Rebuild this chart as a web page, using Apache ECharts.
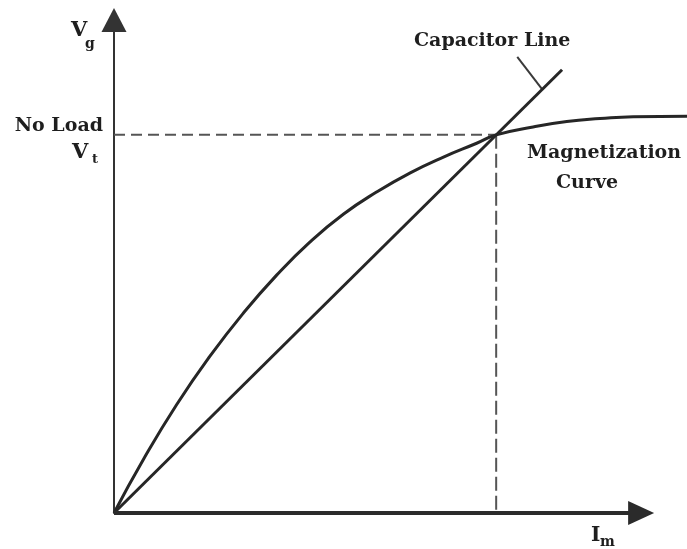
<!DOCTYPE html>
<html>
<head>
<meta charset="utf-8">
<script src="https://cdn.jsdelivr.net/npm/echarts@6/dist/echarts.min.js"></script>
<style>
  html, body { margin: 0; padding: 0; background: #fff; }
  #chart { width: 687px; height: 549px; }
</style>
</head>
<body>
<div id="chart"></div>
<script>
// Magnetization curve of the self-excited generator (Im, Vg), in axis units
const magnetizationCurve = [
  [0, 0], [5.6, 10.9], [11.9, 22.0], [18.2, 31.8], [24.5, 40.5],
  [30.9, 48.3], [37.2, 55.0], [43.5, 60.6], [49.8, 65.1], [56.2, 69.0],
  [62.5, 72.2], [68.8, 75.0], [72.5, 76.7], [79.5, 78.3], [85.9, 79.4],
  [92.2, 80.0], [98.5, 80.4], [108.7, 80.5]
];
// Capacitor line through the origin
const capacitorLine = [[0, 0], [85.0, 89.9]];
// No-load operating point (intersection)
const noLoadPoint = [72.5, 76.7];
// Leader from the "Capacitor Line" caption to the line
const captionLeader = [[76.5, 92.5], [81.2, 86.0]];
// Drawn extent of the Im axis (arrow end) and of the plot area
const imAxisEnd = 100;
const imExtent = 108.7;

const ink = '#262626';
const serif = '"DejaVu Serif", "Liberation Serif", serif';

const chart = echarts.init(document.getElementById('chart'), null, { renderer: 'canvas' });

function label(text, x, y, size, align) {
  return {
    type: 'text', x: x, y: y,
    style: {
      text: text, fill: '#1e1e1e',
      font: 'bold ' + size + 'px ' + serif,
      textAlign: align || 'left', textVerticalAlign: 'middle'
    }
  };
}

chart.setOption({
  animation: false,
  backgroundColor: '#ffffff',
  grid: { left: 114, right: 0, top: 20, bottom: 36 },
  xAxis: {
    type: 'value', min: 0, max: imExtent,
    axisLine: { show: false },
    axisTick: { show: false }, axisLabel: { show: false }, splitLine: { show: false }
  },
  yAxis: {
    type: 'value', min: 0, max: 100,
    axisLine: {
      show: true, onZero: false,
      symbol: ['none', 'triangle'], symbolSize: [25, 24],
      lineStyle: { color: '#333', width: 2 }
    },
    axisTick: { show: false }, axisLabel: { show: false }, splitLine: { show: false }
  },
  series: [
    {
      name: 'Magnetization Curve', type: 'line', data: magnetizationCurve,
      smooth: 0.5, showSymbol: false,
      lineStyle: { color: ink, width: 3 }, z: 3
    },
    {
      name: 'Capacitor Line', type: 'line', data: capacitorLine,
      showSymbol: false,
      lineStyle: { color: ink, width: 3 }, z: 3,
      // Im axis with its arrow head
      markLine: {
        silent: true, animation: false,
        symbol: ['none', 'triangle'], symbolSize: [24, 26],
        label: { show: false },
        lineStyle: { color: '#2b2b2b', width: 4, type: 'solid' },
        emphasis: { disabled: true },
        data: [[{ coord: [0, 0] }, { coord: [imAxisEnd, 0] }]]
      }
    },
    {
      name: 'No Load Vt', type: 'line',
      data: [[0, noLoadPoint[1]], noLoadPoint],
      showSymbol: false,
      lineStyle: { color: '#555', width: 2, type: [11, 6] }, z: 2
    },
    {
      name: 'No Load Im', type: 'line',
      data: [noLoadPoint, [noLoadPoint[0], 0]],
      showSymbol: false,
      lineStyle: { color: '#555', width: 2, type: [14, 5] }, z: 2
    },
    {
      name: 'leader', type: 'line', data: captionLeader,
      showSymbol: false,
      lineStyle: { color: '#3a3a3a', width: 2 }, z: 2
    }
  ],
  graphic: [
    label('V', 71, 31, 21),
    label('g', 85, 44, 14),
    label('No Load', 103, 126, 19, 'right'),
    label('V', 72, 153, 21),
    label('t', 92, 160, 13),
    label('Capacitor Line', 414, 41, 19),
    label('Magnetization', 527, 153, 19),
    label('Curve', 556, 183, 19),
    label('I', 591, 536, 20),
    label('m', 600, 542, 14)
  ]
});
</script>
</body>
</html>
